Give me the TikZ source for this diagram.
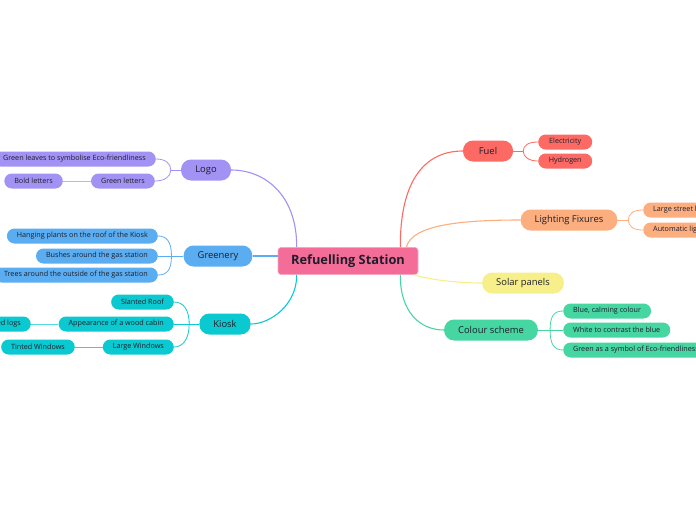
\documentclass[tikz,border=0pt]{standalone}
\usepackage{fontspec}
\setmainfont{Open Sans}
\usetikzlibrary{calc}
\definecolor{cPink}{HTML}{F36D98}
\definecolor{cPurple}{HTML}{A192F4}
\definecolor{cBlue}{HTML}{5AADF0}
\definecolor{cTeal}{HTML}{0BC9D0}
\definecolor{cRed}{HTML}{FD6A64}
\definecolor{cOrange}{HTML}{FDAE7E}
\definecolor{cYellow}{HTML}{F7F08A}
\definecolor{cGreen}{HTML}{45D6A2}
\definecolor{cText}{HTML}{1E1E2A}
\begin{document}
\begin{tikzpicture}[x=1pt,y=-1pt,
  root/.style={fill=cPink, draw=cPink!60!white, line width=0.6pt, rounded corners=3pt, minimum width=140pt, minimum height=27pt, inner sep=0pt, text=cText, font=\fontsize{12.8}{14}\selectfont\bfseries},
  topic/.style={rounded corners=10pt, minimum height=21pt, minimum width=50pt, inner xsep=14pt, inner ysep=0pt, text=cText, font=\fontsize{9.4}{11}\selectfont},
  sub/.style={rounded corners=7.5pt, minimum height=15pt, inner xsep=10pt, inner ysep=0pt, text=cText, font=\fontsize{7.2}{9}\selectfont},
  br/.style={line width=1.1pt},
  sb/.style={line width=0.8pt},
  gb/.style={line width=0.8pt}
]
\useasboundingbox (0,0) rectangle (696,520);
\clip (0,0) rectangle (696,520);

% nodes
\node[root] (c) at (348,261) {Refuelling Station};
\node[topic, fill=cPurple] (logo) at (206,170) {Logo};
\node[topic, fill=cBlue] (gre) at (218,256) {Greenery};
\node[topic, fill=cTeal] (kio) at (225,324) {Kiosk};
\node[topic, fill=cRed] (fuel) at (488,151) {Fuel};
\node[topic, fill=cOrange] (lig) at (569,220) {Lighting Fixures};
\node[topic, fill=cYellow] (sol) at (523,283) {Solar panels};
\node[topic, fill=cGreen] (col) at (491,330) {Colour scheme};

% logo children
\node[sub, fill=cPurple, anchor=east] (l1) at (156,159) {Green leaves to symbolise Eco-friendliness};
\node[sub, fill=cPurple, anchor=east] (l2) at (155,181) {Green letters};
\node[sub, fill=cPurple, anchor=east] (l3) at (63,181) {Bold letters};
% greenery children
\node[sub, fill=cBlue, anchor=east] (g1) at (158,236) {Hanging plants on the roof of the Kiosk};
\node[sub, fill=cBlue, anchor=east] (g2) at (158,256) {Bushes around the gas station};
\node[sub, fill=cBlue, anchor=east] (g3) at (158,275) {Trees around the outside of the gas station};
% kiosk children
\node[sub, fill=cTeal, anchor=east] (k1) at (174,302) {Slanted Roof};
\node[sub, fill=cTeal, anchor=east] (k2) at (174,324) {Appearance of a wood cabin};
\node[sub, fill=cTeal, anchor=east] (k2a) at (31,324) {Stacked logs};
\node[sub, fill=cTeal, anchor=east] (k3) at (174,347) {Large Windows};
\node[sub, fill=cTeal, anchor=east] (k3a) at (75,347) {Tinted Windows};
% fuel children
\node[sub, fill=cRed, anchor=west, minimum width=54pt] (f1) at (538,142) {Electricity};
\node[sub, fill=cRed, anchor=west, minimum width=54pt] (f2) at (538,161) {Hydrogen};
% lighting children
\node[sub, fill=cOrange, anchor=west] (li1) at (643,210) {Large street lights};
\node[sub, fill=cOrange, anchor=west] (li2) at (643,230) {Automatic lighting};
% colour children
\node[sub, fill=cGreen, anchor=west] (c1) at (563,311) {Blue, calming colour};
\node[sub, fill=cGreen, anchor=west] (c2) at (563,330) {White to contrast the blue};
\node[sub, fill=cGreen, anchor=west] (c3) at (563,350) {Green as a symbol of Eco-friendliness};

% main branches
\draw[br, draw=cPurple] ($(c.north west)+(19,0)$) .. controls (297,195) and (265,170) .. (logo.east);
\draw[br, draw=cBlue] (gre.east) -- (gre.east -| c.west);
\draw[br, draw=cTeal] ($(c.south west)+(19,0)$) .. controls (297,305) and (270,324) .. (kio.east);
\draw[br, draw=cRed] ($(c.north east)+(-18,0)$) .. controls (400,180) and (425,151) .. (fuel.west);
\draw[br, draw=cOrange] ($(c.north east)+(-12,0)$) .. controls (412,225) and (460,220) .. (lig.west);
\draw[br, draw=cYellow] ($(c.south east)+(-4,0)$) .. controls (430,280) and (460,283) .. (sol.west);
\draw[br, draw=cGreen] ($(c.south east)+(-18,0)$) .. controls (400,312) and (420,330) .. (col.west);

% logo brackets
\draw[sb, draw=cPurple] (logo.west) -- ++(-10,0) coordinate (jl);
\draw[sb, draw=cPurple] (jl) .. controls +(0,-7) and +(9,0) .. (l1.east);
\draw[sb, draw=cPurple] (jl) .. controls +(0,7) and +(9,0) .. (l2.east);
\draw[gb, draw=cPurple!70!white] (l2.west) -- (l3.east);
% greenery brackets
\draw[sb, draw=cBlue] (gre.west) -- (g2.east);
\path (gre.west) ++(-12,0) coordinate (jg);
\draw[sb, draw=cBlue] (jg) .. controls +(0,-14) and +(9,0) .. (g1.east);
\draw[sb, draw=cBlue] (jg) .. controls +(0,14) and +(9,0) .. (g3.east);
% kiosk brackets
\draw[sb, draw=cTeal] (kio.west) -- (k2.east);
\path (kio.west) ++(-10,0) coordinate (jk);
\draw[sb, draw=cTeal] (jk) .. controls +(0,-15) and +(9,0) .. (k1.east);
\draw[sb, draw=cTeal] (jk) .. controls +(0,15) and +(9,0) .. (k3.east);
\draw[gb, draw=cTeal!70!white] (k2.west) -- (k2a.east);
\draw[gb, draw=cTeal!85!white] (k3.west) -- (k3a.east);
% fuel brackets
\draw[sb, draw=cRed] (fuel.east) -- ++(10,0) coordinate (jf);
\draw[sb, draw=cRed] (jf) .. controls +(0,-6) and +(-9,0) .. (f1.west);
\draw[sb, draw=cRed] (jf) .. controls +(0,6) and +(-9,0) .. (f2.west);
% lighting brackets
\draw[sb, draw=cOrange] (lig.east) -- ++(11,0) coordinate (jli);
\draw[sb, draw=cOrange] (jli) .. controls +(0,-7) and +(-9,0) .. (li1.west);
\draw[sb, draw=cOrange] (jli) .. controls +(0,7) and +(-9,0) .. (li2.west);
% colour brackets
\draw[sb, draw=cGreen] (col.east) -- (c2.west);
\path (col.east) ++(12,0) coordinate (jc);
\draw[sb, draw=cGreen] (jc) .. controls +(0,-14) and +(-9,0) .. (c1.west);
\draw[sb, draw=cGreen] (jc) .. controls +(0,14) and +(-9,0) .. (c3.west);
\end{tikzpicture}
\end{document}
